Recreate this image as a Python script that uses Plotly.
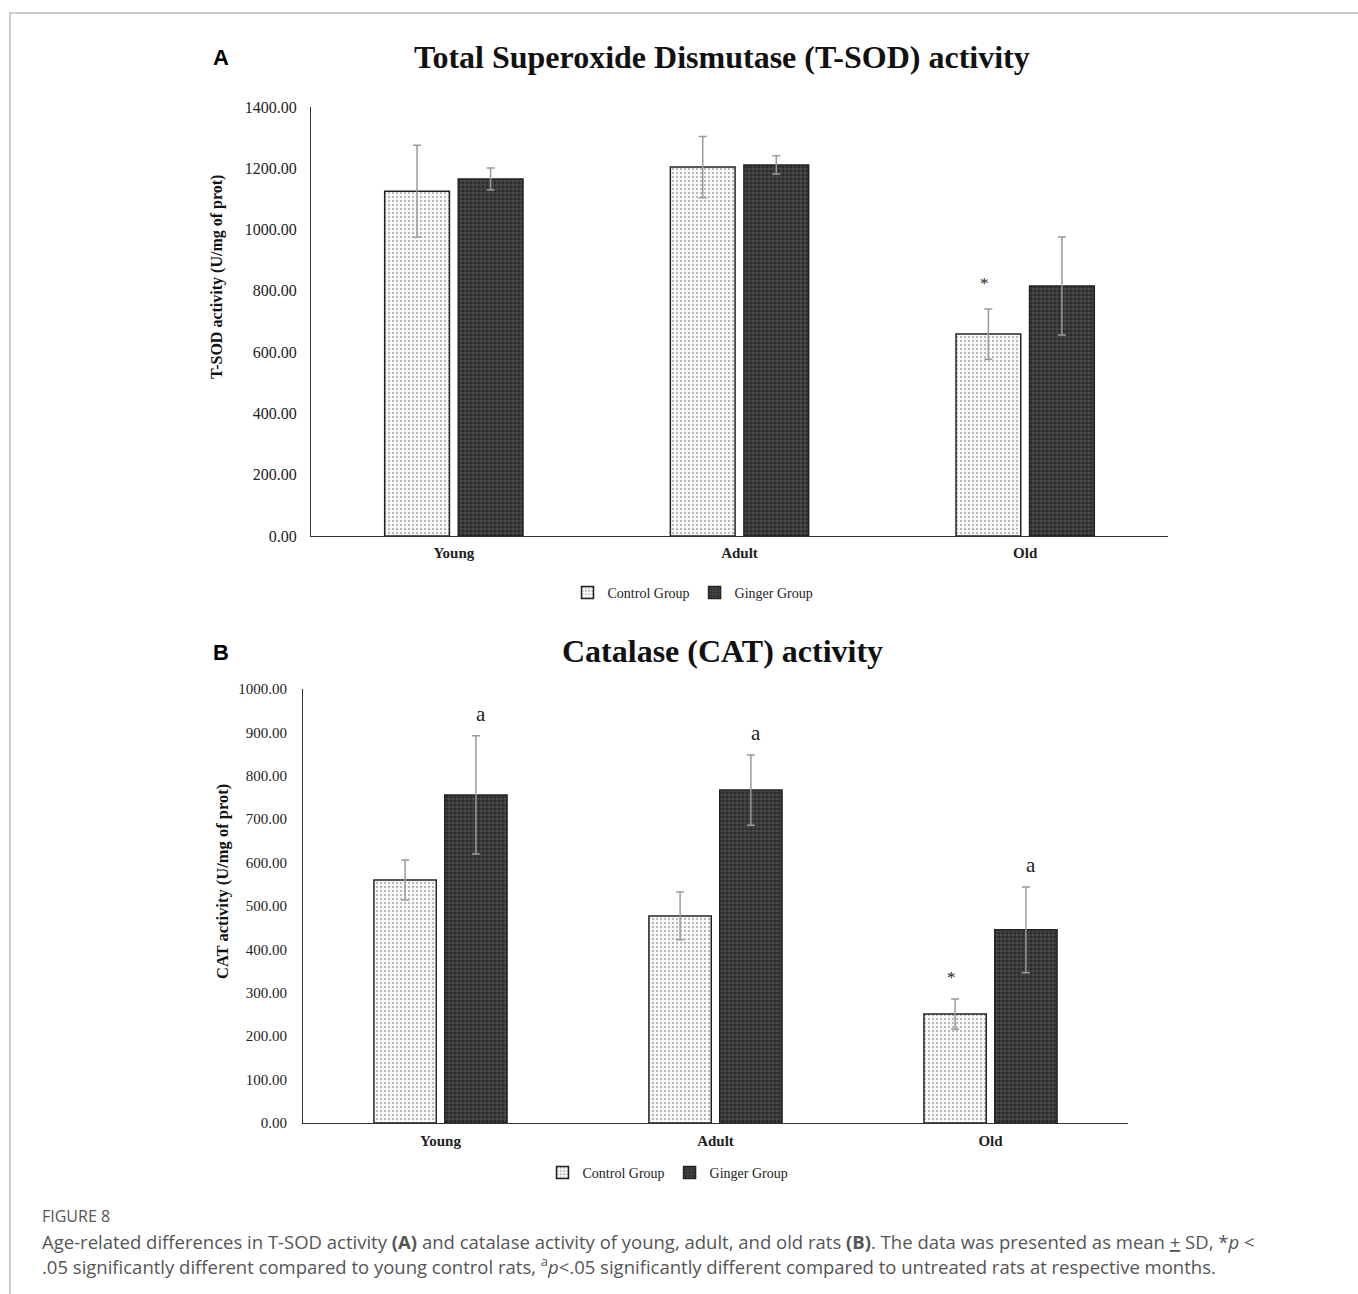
import plotly.graph_objects as go

W, H = 1358, 1294

categories = ["Young", "Adult", "Old"]

# Panel A: T-SOD activity
sod_control = [1125, 1204, 659]
sod_control_sd = [150, 100, 82]
sod_ginger = [1165, 1211, 816]
sod_ginger_sd = [36, 30, 160]

# Panel B: CAT activity
cat_control = [560, 477, 251]
cat_control_sd = [46, 55, 35]
cat_ginger = [756, 767, 445]
cat_ginger_sd = [136, 81, 99]

SERIF = "Liberation Serif, Times New Roman, serif"
SANS = "Liberation Sans, Arial, sans-serif"

ctrl_pattern = dict(shape=".", fgcolor="#707070", bgcolor="#ffffff", size=4, solidity=0.3)
ging_pattern = dict(shape="+", fgcolor="#9a9a9a", bgcolor="#2a2a2a", size=4, solidity=0.3)
err_style = dict(type="data", color="#9a9a9a", thickness=1.5, width=4, visible=True)

fig = go.Figure()

def add_pair(xa, ya, ctrl, ctrl_sd, ging, ging_sd, legend):
    fig.add_trace(go.Bar(
        x=categories, y=ctrl, name="Control Group", xaxis=xa, yaxis=ya,
        marker=dict(color="#ffffff", pattern=ctrl_pattern, line=dict(color="#222", width=1.5)),
        error_y=dict(array=ctrl_sd, **err_style), legend=legend))
    fig.add_trace(go.Bar(
        x=categories, y=ging, name="Ginger Group", xaxis=xa, yaxis=ya,
        marker=dict(color="#2a2a2a", pattern=ging_pattern, line=dict(color="#222", width=1.5)),
        error_y=dict(array=ging_sd, **err_style), legend=legend))

add_pair("x", "y", sod_control, sod_control_sd, sod_ginger, sod_ginger_sd, "legend")
add_pair("x2", "y2", cat_control, cat_control_sd, cat_ginger, cat_ginger_sd, "legend2")

def px_x(p):
    return p / W

def px_y(p):
    return 1 - p / H

axis_common = dict(showgrid=False, zeroline=False, showline=True, linecolor="#333", linewidth=1.2,
                   ticks="", automargin=False)
xfont = dict(family=SERIF, size=15, color="#222", weight="bold")

fig.update_layout(
    width=W, height=H,
    margin=dict(l=0, r=0, t=0, b=0, autoexpand=False),
    paper_bgcolor="white", plot_bgcolor="white",
    barmode="group", bargap=0.485, bargroupgap=0.12,
    xaxis=dict(domain=[px_x(311), px_x(1168)], anchor="y", tickfont=xfont, ticklabelstandoff=3, **axis_common),
    yaxis=dict(domain=[px_y(536), px_y(107)], anchor="x", range=[0, 1400], dtick=200,
               tickformat=".2f", tickfont=dict(family=SERIF, size=16, color="#222"), ticklabelstandoff=10,
               **axis_common),
    xaxis2=dict(domain=[px_x(303), px_x(1128)], anchor="y2", tickfont=xfont, ticklabelstandoff=4, **axis_common),
    yaxis2=dict(domain=[px_y(1123), px_y(689)], anchor="x2", range=[0, 1000], dtick=100,
                tickformat=".2f", tickfont=dict(family=SERIF, size=15, color="#222"), ticklabelstandoff=12,
                **axis_common),
    legend=dict(orientation="h", x=px_x(693), xanchor="center", y=px_y(593), yanchor="middle",
                font=dict(family=SERIF, size=14, color="#222"), itemwidth=30, bgcolor="rgba(0,0,0,0)"),
    legend2=dict(orientation="h", x=px_x(668), xanchor="center", y=px_y(1173), yanchor="middle",
                 font=dict(family=SERIF, size=14, color="#222"), itemwidth=30, bgcolor="rgba(0,0,0,0)"),
    showlegend=True,
)

ann = []
# Titles
ann.append(dict(text="<b>Total Superoxide Dismutase (T-SOD) activity</b>", x=px_x(722), y=px_y(57),
                xref="paper", yref="paper", xanchor="center", yanchor="middle", showarrow=False,
                font=dict(family=SERIF, size=32, color="#111")))
ann.append(dict(text="<b>Catalase (CAT) activity</b>", x=px_x(722), y=px_y(651),
                xref="paper", yref="paper", xanchor="center", yanchor="middle", showarrow=False,
                font=dict(family=SERIF, size=32, color="#111")))
ann.append(dict(text="<b>A</b>", x=px_x(221), y=px_y(57), xref="paper", yref="paper", xanchor="center",
                yanchor="middle", showarrow=False, font=dict(family=SANS, size=22, color="#000")))
ann.append(dict(text="<b>B</b>", x=px_x(221), y=px_y(652), xref="paper", yref="paper", xanchor="center",
                yanchor="middle", showarrow=False, font=dict(family=SANS, size=22, color="#000")))

# Y-axis titles
ann.append(dict(text="<b>T-SOD activity (U/mg of prot)</b>", x=px_x(217), y=px_y(277), xref="paper", yref="paper",
                xanchor="center", yanchor="middle", textangle=-90, showarrow=False,
                font=dict(family=SERIF, size=16, color="#111")))
ann.append(dict(text="<b>CAT activity (U/mg of prot)</b>", x=px_x(222), y=px_y(882), xref="paper", yref="paper",
                xanchor="center", yanchor="middle", textangle=-90, showarrow=False,
                font=dict(family=SERIF, size=16.5, color="#111")))

# Significance markers
ann.append(dict(text="*", x="Old", y=sod_control[2] + sod_control_sd[2], xref="x", yref="y",
                xshift=-41, yshift=14, yanchor="bottom", showarrow=False, font=dict(family=SERIF, size=17, color="#222")))
ann.append(dict(text="*", x="Old", y=cat_control[2] + cat_control_sd[2], xref="x2", yref="y2",
                xshift=-39, yshift=10, yanchor="bottom", showarrow=False, font=dict(family=SERIF, size=17, color="#222")))
for i, c in enumerate(categories):
    ann.append(dict(text="a", x=c, y=cat_ginger[i] + cat_ginger_sd[i], xref="x2", yref="y2",
                    xshift=40, yshift=8, yanchor="bottom", showarrow=False,
                    font=dict(family=SERIF, size=21, color="#222")))

# Caption
cap_color = "#555555"
ann.append(dict(text="FIGURE 8", x=px_x(40), y=px_y(1216), xref="paper", yref="paper", xanchor="left",
                yanchor="middle", showarrow=False, font=dict(family="Open Sans", size=16, color=cap_color)))
ann.append(dict(text="Age-related differences in T-SOD activity <b>(A)</b> and catalase activity of young, adult, and old rats <b>(B)</b>. "
                     "The data was presented as mean <u>+</u> SD, *<i>p</i> &lt;",
                x=px_x(40), y=px_y(1241), xref="paper", yref="paper", xanchor="left", yanchor="middle",
                showarrow=False, font=dict(family="Open Sans", size=18.5, color=cap_color)))
ann.append(dict(text=".05 significantly different compared to young control rats, <sup>a</sup><i>p</i>&lt;.05 significantly different compared to untreated rats at respective months.",
                x=px_x(40), y=px_y(1265), xref="paper", yref="paper", xanchor="left", yanchor="middle",
                showarrow=False, font=dict(family="Open Sans", size=18.5, color=cap_color)))
fig.update_layout(annotations=ann)

# Frame lines
fig.add_shape(type="line", xref="paper", yref="paper", x0=px_x(9), x1=1, y0=px_y(13), y1=px_y(13),
              line=dict(color="#cccccc", width=2))
fig.add_shape(type="line", xref="paper", yref="paper", x0=px_x(10), x1=px_x(10), y0=px_y(13), y1=0,
              line=dict(color="#cccccc", width=2))

fig.write_html("out.html")
